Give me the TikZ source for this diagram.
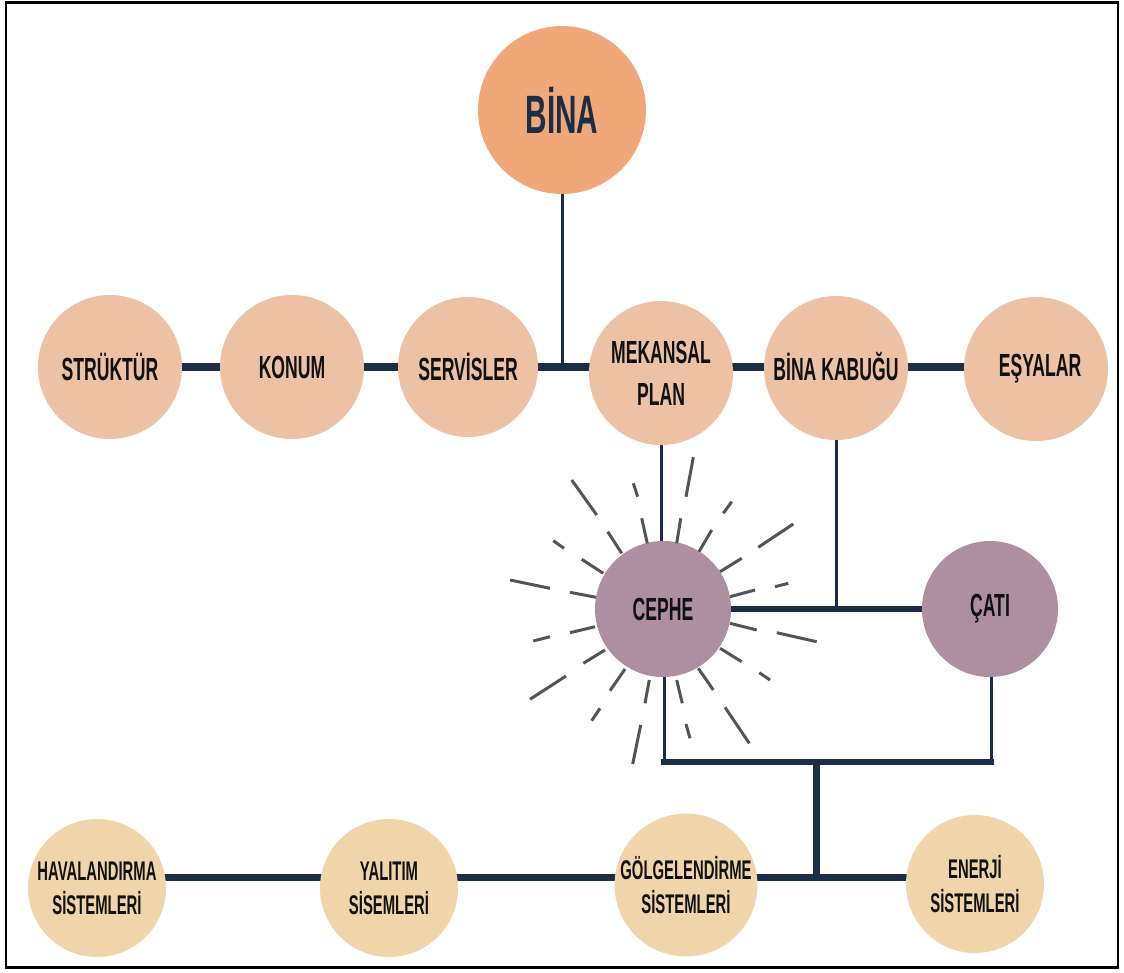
\documentclass[tikz,border=0pt]{standalone}
\usepackage{fontspec}
\usetikzlibrary{backgrounds}
\newfontfamily\cond{Liberation Sans}[FakeStretch=0.55]
\definecolor{navy}{HTML}{1B2E45}
\definecolor{binaC}{HTML}{F0A878}
\definecolor{peach}{HTML}{EDC1A3}
\definecolor{mauve}{HTML}{AD8FA1}
\definecolor{sand}{HTML}{EFD5A9}
\definecolor{raygray}{HTML}{555555}
\definecolor{txt}{HTML}{111111}
\tikzset{
  circ/.style={circle, draw=none, inner sep=0pt, align=center, text=txt},
  rowtwo/.style={circ, fill=peach, minimum size=144pt, font=\cond\bfseries\fontsize{32}{42}\selectfont},
  facade/.style={circ, fill=mauve, minimum size=136pt, font=\cond\bfseries\fontsize{32}{42}\selectfont},
  bottomc/.style={circ, fill=sand, minimum size=138pt, font=\cond\bfseries\fontsize{27}{34}\selectfont},
  thickline/.style={draw=navy, line width=8pt},
  midline/.style={draw=navy, line width=6pt},
  thinline/.style={draw=navy, line width=3pt},
  ray/.style={draw=raygray, line width=3pt}
}
\begin{document}
\begin{tikzpicture}[x=1pt, y=-1pt]
\useasboundingbox (0,0) rectangle (1124,972);

% top
\node[circ, fill=binaC, minimum size=168pt, text=navy, font=\cond\bfseries\fontsize{54}{60}\selectfont] (bina) at (562,110) {BİNA};

% second row
\node[rowtwo] (struk) at (110,367) {STRÜKTÜR};
\node[rowtwo] (konum) at (292,367) {KONUM};
\node[rowtwo, minimum size=140pt] (serv) at (468,367) {SERVİSLER};
\node[rowtwo] (mek) at (661,373) {MEKANSAL\\PLAN};
\node[rowtwo] (kabuk) at (836,368) {\raisebox{3pt}{BİNA KABUĞU}};
\node[rowtwo] (esya) at (1036,369) {\hspace{8pt}EŞYALAR};

% third row
\node[facade] (cephe) at (663,609) {CEPHE};
\node[facade] (cati) at (990,609) {ÇATI};

% bottom row
\node[bottomc] (hav) at (97,888) {HAVALANDIRMA\\SİSTEMLERİ};
\node[bottomc] (yal) at (389,888) {YALITIM\\SİSEMLERİ};
\node[bottomc] (golg) at (686,885) {GÖLGELENDİRME\\SİSTEMLERİ};
\node[bottomc] (ener) at (975,884) {ENERJİ\\SİSTEMLERİ};

\coordinate (jl) at (664,762);
\coordinate (jm) at (816,762);
\coordinate (jr) at (991,762);
\coordinate (jb) at (816,877);

\begin{scope}[on background layer]
  \fill[white] (0,0) rectangle (1124,972);
  \draw[black, line width=2.5pt] (6,2.5) rectangle (1118,967.5);
  \draw[thickline] (struk.center) -- (esya.center |- struk.center);
  \draw[thinline] (bina.south) -- (bina.south |- struk.center);
  \draw[thinline] (mek.south) -- (mek.south |- cephe.north);
  \draw[thinline] (kabuk.south) -- (kabuk.south |- cephe.east);
  \draw[midline] (cephe.east) -- (cati.west);
  \draw[thinline] (cephe.south -| jl) -- (jl);
  \draw[thinline] (cati.south -| jr) -- (jr);
  \draw[midline, line cap=rect] (jl) -- (jr);
  \draw[line width=7pt, draw=navy] (jm) -- (jb);
  \draw[line width=7pt, draw=navy] (hav.center |- jb) -- (ener.center |- jb);
\end{scope}

% sunburst rays
\draw[ray] (641.7,518.3)--(647.3,543.3);
\draw[ray] (680.7,518.3)--(676.7,543.3);
\draw[ray] (711.7,530)--(699,551.7);
\draw[ray] (607.7,531.7)--(621.7,553.3);
\draw[ray] (741.7,558.3)--(720,571.7);
\draw[ray] (581.7,559.3)--(603.3,573.3);
\draw[ray] (755,590)--(730,596.7);
\draw[ray] (570,592.3)--(596,597.3);
\draw[ray] (570,632.7)--(595,626.7);
\draw[ray] (730,623.3)--(756.7,630);
\draw[ray] (583.3,663.3)--(605,650);
\draw[ray] (720,648.3)--(741.7,661.7);
\draw[ray] (610,690.7)--(625,669);
\draw[ray] (698.3,668.3)--(713.3,690);
\draw[ray] (645,703.3)--(649.3,680);
\draw[ray] (676.7,680)--(682.3,703.3);
\draw[ray] (571.7,480)--(596.7,515);
\draw[ray] (633.3,483.3)--(637.7,496.7);
\draw[ray] (693.3,457.3)--(686,496.7);
\draw[ray] (731.7,501.7)--(723.3,513.3);
\draw[ray] (793.3,524)--(758.3,547.3);
\draw[ray] (553.3,540.7)--(564,548.3);
\draw[ray] (510,580)--(550,588.3);
\draw[ray] (788.3,583.3)--(775,586.7);
\draw[ray] (776.7,632.7)--(816.7,641.7);
\draw[ray] (533.3,641)--(550,636.7);
\draw[ray] (530,699.3)--(566,676);
\draw[ray] (759.3,672.7)--(770,680);
\draw[ray] (591.7,720.7)--(600,708.3);
\draw[ray] (686,724)--(690,738.3);
\draw[ray] (725,707.3)--(749.3,743.3);
\draw[ray] (640.7,725)--(632.7,764);
\end{tikzpicture}
\end{document}
